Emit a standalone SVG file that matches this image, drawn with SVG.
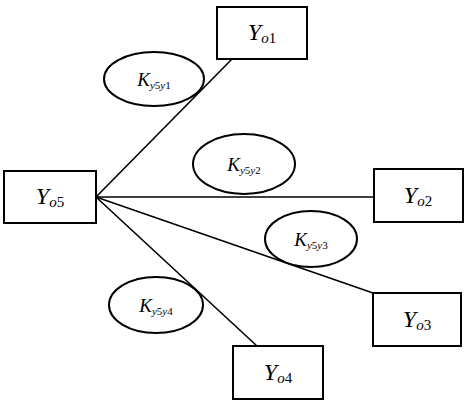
<svg xmlns="http://www.w3.org/2000/svg" width="465" height="404" viewBox="0 0 465 404">
<style>
.b,ellipse{fill:#fff;stroke:#000;stroke-width:2}
.c line{stroke:#000;stroke-width:1.6}
text{font-family:"Liberation Serif","Times New Roman",serif;fill:#000}
.y{font-size:24px;text-anchor:middle}
.k{font-size:19px;text-anchor:middle}
.i{font-style:italic}
.s1{font-size:15px}
.s2{font-size:11px}
</style>
<rect width="465" height="404" fill="#fff"/>
<g class="c">
<line x1="96" y1="197" x2="232" y2="59"/>
<line x1="96" y1="197" x2="374" y2="197"/>
<line x1="96" y1="197" x2="373" y2="293"/>
<line x1="96" y1="197" x2="257" y2="346"/>
</g>
<g id="k1"><ellipse cx="154" cy="79" rx="50" ry="27" fill="none" style="fill:none"/><text class="k" x="154" y="86"><tspan class="i">K</tspan><tspan class="s2 i" dy="3">y</tspan><tspan class="s2">5</tspan><tspan class="s2 i">y</tspan><tspan class="s2">1</tspan></text></g>
<g id="k2"><ellipse cx="244" cy="164" rx="51" ry="30"/><text class="k" x="244" y="171"><tspan class="i">K</tspan><tspan class="s2 i" dy="3">y</tspan><tspan class="s2">5</tspan><tspan class="s2 i">y</tspan><tspan class="s2">2</tspan></text></g>
<g id="k3"><ellipse cx="311" cy="239" rx="46" ry="28" style="fill:none"/><text class="k" x="311" y="246"><tspan class="i">K</tspan><tspan class="s2 i" dy="3">y</tspan><tspan class="s2">5</tspan><tspan class="s2 i">y</tspan><tspan class="s2">3</tspan></text></g>
<g id="k4"><ellipse cx="156" cy="305" rx="47" ry="28" style="fill:none"/><text class="k" x="156" y="312"><tspan class="i">K</tspan><tspan class="s2 i" dy="3">y</tspan><tspan class="s2">5</tspan><tspan class="s2 i">y</tspan><tspan class="s2">4</tspan></text></g>
<g id="yo1"><rect class="b" x="217" y="7" width="90" height="52"/><text class="y" x="262" y="40"><tspan class="i">Y</tspan><tspan class="s1" dy="3"><tspan class="i">o</tspan>1</tspan></text></g>
<g id="yo5"><rect class="b" x="4" y="171" width="92" height="52"/><text class="y" x="50" y="204"><tspan class="i">Y</tspan><tspan class="s1" dy="3"><tspan class="i">o</tspan>5</tspan></text></g>
<g id="yo2"><rect class="b" x="374" y="169" width="89" height="53"/><text class="y" x="418" y="203"><tspan class="i">Y</tspan><tspan class="s1" dy="3"><tspan class="i">o</tspan>2</tspan></text></g>
<g id="yo3"><rect class="b" x="373" y="293" width="88" height="53"/><text class="y" x="417" y="327"><tspan class="i">Y</tspan><tspan class="s1" dy="3"><tspan class="i">o</tspan>3</tspan></text></g>
<g id="yo4"><rect class="b" x="233" y="346" width="90" height="53"/><text class="y" x="278" y="380"><tspan class="i">Y</tspan><tspan class="s1" dy="3"><tspan class="i">o</tspan>4</tspan></text></g>
</svg>
